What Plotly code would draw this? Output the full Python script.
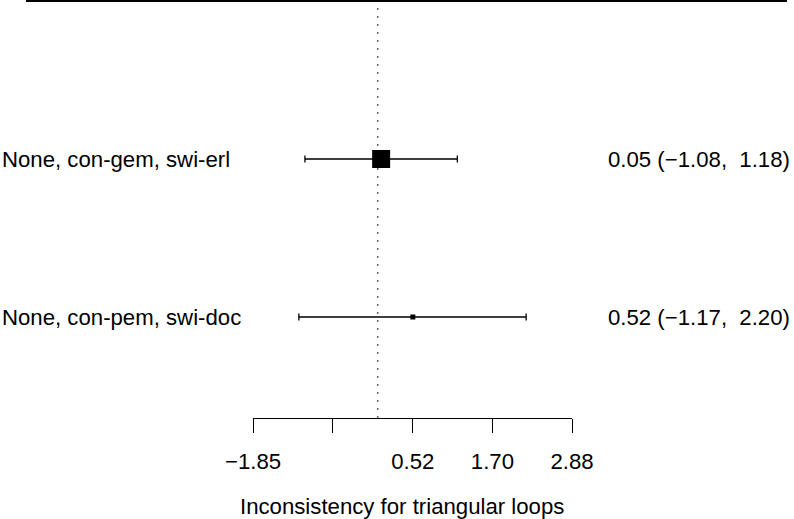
import plotly.graph_objects as go

# ---- data ----
comparisons = ["None, con-gem, swi-erl", "None, con-pem, swi-doc"]
estimates = [0.05, 0.52]
lower = [-1.08, -1.17]
upper = [1.18, 2.20]
weights = [18, 5]          # marker size (relative weight of loop)
row_index = [2, 1]         # rows, top to bottom
tick_vals = [-1.85, -0.67, 0.52, 1.70, 2.88]
tick_text = ["\u22121.85", "", "0.52", "1.70", "2.88"]
x_title = "Inconsistency for triangular loops"

W, H = 794, 519
FONT = "Liberation Sans, Arial, sans-serif"
FS = 22.2

def fmt(v):
    s = f"{abs(v):.2f}"
    return ("\u2212" + s) if v < 0 else ("\u00a0" + s)

right_text = [f"{e:.2f} ({fmt(l)}, {fmt(u)})" for e, l, u in zip(estimates, lower, upper)]

# pixel layout helpers
ax_left, ax_right = 253, 572
axis_y_px = 418
y_top = 2 + 159 / 158
y_bot = 1 - (axis_y_px - 317) / 158

fig = go.Figure()
fig.add_trace(go.Scatter(
    x=estimates, y=row_index, mode="markers",
    marker=dict(symbol="square", size=weights, color="black", opacity=1, line=dict(width=0)),
    error_x=dict(type="data", symmetric=False,
                 array=[u - e for u, e in zip(upper, estimates)],
                 arrayminus=[e - l for e, l in zip(estimates, lower)],
                 color="black", thickness=1.3, width=3.5),
    cliponaxis=False, showlegend=False, hoverinfo="skip",
))

annotations = []
for lab, rt, y in zip(comparisons, right_text, row_index):
    annotations.append(dict(x=0, xref="paper", y=y, yref="y", text=lab, showarrow=False,
                            xanchor="left", yanchor="middle",
                            font=dict(family=FONT, size=FS, color="black")))
    annotations.append(dict(x=792 / W, xref="paper", y=y, yref="y", text=rt, showarrow=False,
                            xanchor="right", yanchor="middle",
                            font=dict(family=FONT, size=FS, color="black")))
annotations.append(dict(x=401.5 / W, xref="paper", y=(H - 506) / H, yref="paper", text=x_title,
                        showarrow=False, xanchor="center", yanchor="middle",
                        font=dict(family=FONT, size=FS, color="black")))

shapes = [
    dict(type="line", xref="paper", yref="paper", x0=26 / W, x1=787 / W,
         y0=1 - 1 / H, y1=1 - 1 / H, line=dict(color="black", width=2)),
    dict(type="line", xref="x", yref="y", x0=0, x1=0, y0=y_bot, y1=y_top - 2 / 158,
         line=dict(color="#444444", width=1.2, dash="2px,6px"), layer="below"),
]

fig.update_layout(
    width=W, height=H, margin=dict(l=0, r=0, t=0, b=0, autoexpand=False),
    paper_bgcolor="white", plot_bgcolor="white",
    xaxis=dict(domain=[ax_left / W, ax_right / W], range=[-1.85, 2.88], automargin=False,
               showgrid=False, zeroline=False, showline=True, linecolor="black", linewidth=1,
               ticks="outside", ticklen=14, tickwidth=1, tickcolor="black",
               tickvals=tick_vals, ticktext=tick_text, ticklabelstandoff=9,
               tickfont=dict(family=FONT, size=FS, color="black"),
               fixedrange=True),
    yaxis=dict(domain=[(H - axis_y_px) / H, 1], range=[y_bot, y_top], automargin=False,
               visible=False, showgrid=False, zeroline=False, fixedrange=True),
    annotations=annotations, shapes=shapes,
)

fig.write_html("out.html", config={"displayModeBar": False},
               post_script="document.body.style.margin='0';")
